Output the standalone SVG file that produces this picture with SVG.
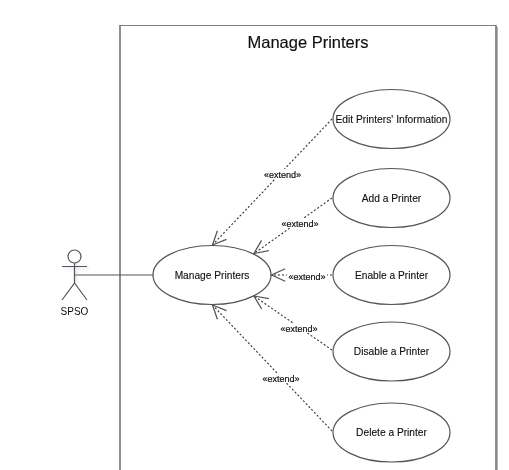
<svg xmlns="http://www.w3.org/2000/svg" width="509" height="470" viewBox="0 0 509 470">
<style>
text{font-family:"Liberation Sans",Arial,sans-serif;fill:#111;text-anchor:middle}
.uc{font-size:10.200px;stroke:#111;stroke-width:.12px}
.st{font-size:9px;stroke:#111;stroke-width:.2px}
.e{fill:#fff;stroke:#555;stroke-width:1.200}
.a{fill:none;stroke:#555;stroke-width:1.200}
.d{fill:none;stroke:#333;stroke-width:1.100;stroke-dasharray:2 2;marker-end:url(#open)}
.sh{fill:none;stroke:#aab2d0;stroke-width:1.600}
</style>
<defs>
<marker id="open" markerUnits="userSpaceOnUse" markerWidth="16" markerHeight="16" refX="12" refY="6" viewBox="-1 0 14 12" orient="auto">
<path d="M0 0.500L12 6L0 11.500" fill="none" stroke="#555" stroke-width="1.100"/>
</marker>
<filter id="soft" x="-20%" y="-20%" width="140%" height="140%"><feGaussianBlur stdDeviation="1.500"/></filter>
<filter id="scan" x="0" y="0" width="100%" height="100%"><feGaussianBlur stdDeviation="0.400"/></filter>
</defs>
<rect width="509" height="470" fill="#fff"/>
<g filter="url(#scan)">
<g id="system">
<path class="sh" d="M497.500 27V470"/>
<path d="M120 470V25H496V470" fill="none" stroke="#555" stroke-width="1.300"/>
<text x="308" y="48" font-size="16.500" stroke="#111" stroke-width=".15">Manage Printers</text>
</g>
<g id="uc-manage"><ellipse class="e" cx="212" cy="275" rx="59" ry="29.500"/><text class="uc" x="212" y="278.500">Manage Printers</text></g>
<g id="uc-edit"><ellipse class="e" cx="391.500" cy="119" rx="58.500" ry="29.500"/><text class="uc" x="391.500" y="122.500" textLength="112" lengthAdjust="spacingAndGlyphs">Edit Printers' Information</text></g>
<g id="uc-add"><ellipse class="e" cx="391.500" cy="198" rx="58.500" ry="29.500"/><text class="uc" x="391.500" y="201.500">Add a Printer</text></g>
<g id="uc-enable"><ellipse class="e" cx="391.500" cy="275" rx="58.500" ry="29.500"/><text class="uc" x="391.500" y="278.500">Enable a Printer</text></g>
<g id="uc-disable"><ellipse class="e" cx="391.500" cy="351.500" rx="58.500" ry="29.500"/><text class="uc" x="391.500" y="355">Disable a Printer</text></g>
<g id="uc-delete"><ellipse class="e" cx="391.500" cy="432.500" rx="58.500" ry="29.500"/><text class="uc" x="391.500" y="436">Delete a Printer</text></g>
<g id="connectors">
<path class="a" d="M74.500 275H153"/>
<path class="d" d="M332 119L212.500 245"/>
<path class="d" d="M332 198L254 253.500"/>
<path class="d" d="M332 275L271.500 275"/>
<path class="d" d="M332 350L254 296"/>
<path class="d" d="M332 431L212.500 305"/>
<g fill="#fff">
<rect x="262" y="169" width="40" height="10"/>
<rect x="280" y="218" width="40" height="10"/>
<rect x="287" y="272" width="40" height="10"/>
<rect x="279" y="323" width="40" height="10"/>
<rect x="261" y="373" width="40" height="10"/>
</g>
<text class="st" x="282.500" y="178">«extend»</text>
<text class="st" x="300" y="227">«extend»</text>
<text class="st" x="307" y="280">«extend»</text>
<text class="st" x="299" y="332">«extend»</text>
<text class="st" x="281" y="382">«extend»</text>
</g>
<g id="actor-spso">
<path d="M64 268H89M76 259V283" fill="none" stroke="#aab2d0" stroke-width="1.200" opacity=".6" filter="url(#soft)"/>
<circle class="e" cx="74.500" cy="256.500" r="6.500"/>
<path class="a" d="M62 266.500H87M74.500 263V283L62 300M74.500 283L87 300"/>
<text x="74.500" y="315" font-size="10">SPSO</text>
</g>
</g>
</svg>
